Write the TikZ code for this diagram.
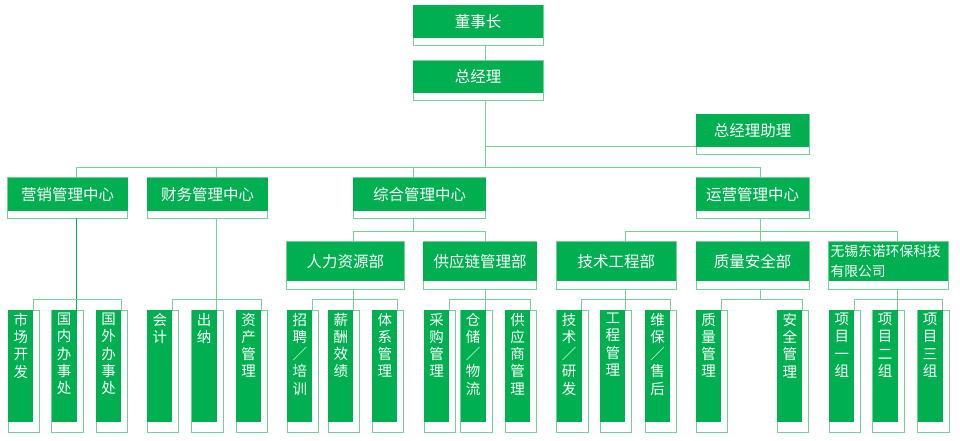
\documentclass[tikz,border=0pt]{standalone}
\usepackage{fontspec}
\newfontfamily\cjk{Noto Sans CJK SC}
\definecolor{gr}{HTML}{00B050}
\definecolor{lg}{HTML}{72D29A}
\tikzset{
  frame/.style={draw=lg, fill=white, line width=0.8pt, inner sep=0pt, outer sep=0pt, anchor=north west},
  gfill/.style={fill=gr, inner sep=0pt, outer sep=0pt, anchor=north west, text=white,
                font=\cjk\fontsize{15.5}{18}\selectfont},
  vtext/.style={anchor=north, align=center, text=white, inner sep=0pt,
                font=\cjk\fontsize{14.5}{17.2}\selectfont},
  conn/.style={draw=lg, line width=1pt},
  conndark/.style={draw=gr, line width=1pt},
}
% horizontal box: [green style]{name}{x0}{y0}{x1}{y1}{ygreen}{text}
\newcommand\HB[8][]{%
  \node[frame, minimum width={(#5-#3)*1pt}, minimum height={(#6-#4)*1pt}] (#2) at (#3,#4) {};
  \node[gfill, minimum width={(#5-#3)*1pt}, minimum height={(#7-#4)*1pt}, #1] (#2g) at (#3,#4) {#8};
}
% vertical box: {name}{x0}{text}
\newcommand\VB[3]{%
  \node[frame, minimum width=31.3pt, minimum height=122.3pt] (#1) at (#2,310) {};
  \node[gfill, minimum width=25pt, minimum height=111.7pt] (#1g) at (#2,310) {};
  \node[vtext] (#1t) at (#2+12.5,313) {#3};
}
\newcommand\kids[2]{%
  \draw[conn] (#1g.north east) -- (#1g.north east |- y4) -- (#2g.north east |- y4) -- (#2g.north east);
}
\begin{document}
\begin{tikzpicture}[x=1pt,y=-1pt]
\useasboundingbox (0,0) rectangle (960,441);
\coordinate (c0) at (485.7,0);
\coordinate (dC) at (413.7,0);
\coordinate (dD) at (760.7,0);
\coordinate (y2) at (0,167.3);
\coordinate (y3) at (0,231.3);
\coordinate (y4) at (0,299);

% top levels
\HB{dsz}{413}{5}{543}{45}{37.7}{董事长}
\HB{zjl}{413}{60.7}{543}{100.7}{93.3}{总经理}
\HB{zs}{696}{114}{809.3}{154}{146.7}{总经理助理}
% level 2
\HB{yx}{7.7}{177.7}{127.7}{218.3}{211}{营销管理中心}
\HB{cw}{147.3}{177.7}{267.7}{218.3}{211}{财务管理中心}
\HB{zh}{353.3}{177.7}{485.7}{218.3}{211}{综合管理中心}
\HB{yy}{696}{177.7}{809.3}{218.3}{211}{运营管理中心}
% level 3
\HB{rl}{286.7}{241.7}{404}{289}{281}{人力资源部}
\HB{gy}{423.3}{241.7}{536.7}{289}{281}{供应链管理部}
\HB{js}{556.7}{241.7}{676}{289}{281}{技术工程部}
\HB{zl}{696}{241.7}{809.3}{289}{281}{质量安全部}
\HB[align=left, text width=116pt, font=\cjk\fontsize{13.8}{19.5}\selectfont]{wx}{828.7}{241.7}{948.3}{289}{281}{无锡东诺环保科技\\有限公司}
% level 4
\VB{a1}{8.3}{市\\场\\开\\发}
\VB{a2}{51.7}{国\\内\\办\\事\\处}
\VB{a3}{96}{国\\外\\办\\事\\处}
\VB{b1}{147.3}{会\\计}
\VB{b2}{191.7}{出\\纳}
\VB{b3}{236}{资\\产\\管\\理}
\VB{c1}{287.3}{招\\聘\\／\\培\\训}
\VB{c2}{328.3}{薪\\酬\\效\\绩}
\VB{c3}{372.3}{体\\系\\管\\理}
\VB{d1}{424}{采\\购\\管\\理}
\VB{d2}{460.7}{仓\\储\\／\\物\\流}
\VB{d3}{505}{供\\应\\商\\管\\理}
\VB{e1}{556.7}{技\\术\\／\\研\\发}
\VB{e2}{600.3}{工\\程\\管\\理}
\VB{e3}{645}{维\\保\\／\\售\\后}
\VB{f1}{696}{质\\量\\管\\理}
\VB{f2}{777.3}{安\\全\\管\\理}
\VB{h1}{829.3}{项\\目\\一\\组}
\VB{h2}{872.7}{项\\目\\二\\组}
\VB{h3}{917.7}{项\\目\\三\\组}

% connectors: top
\draw[conn] (c0 |- dsz.south) -- (c0 |- zjl.north);
\draw[conn] (c0 |- zjl.south) -- (c0 |- y2);
\draw[conn] (c0 |- zsg.south west) -- (zsg.south west);
\draw[conn] (a2g.north east |- y2) -- (dD |- y2);
\draw[conn] (a2g.north east |- y2) -- (a2g.north east |- yx.north);
\draw[conn] (b2g.north east |- y2) -- (b2g.north east |- cw.north);
\draw[conn] (dC |- y2) -- (dC |- zh.north);
\draw[conn] (dD |- y2) -- (dD |- yy.north);
% 营销
\draw[conndark] (a2g.north east |- yx.south) -- (a2g.north east);
\kids{a1}{a3}
% 财务
\draw[conn] (b2g.north east |- cw.south) -- (b2g.north east);
\kids{b1}{b3}
% 综合
\draw[conn] (dC |- zh.south) -- (dC |- y3);
\draw[conn] (c2g.north east |- rl.north) -- (c2g.north east |- y3) -- (c0 |- y3) -- (c0 |- gy.north);
\draw[conn] (c2g.north east |- rl.south) -- (c2g.north east);
\kids{c1}{c3}
\draw[conn] (c0 |- gy.south) -- (c0 |- d2g.north);
\kids{d1}{d3}
% 运营
\draw[conn] (dD |- yy.south) -- (dD |- zl.north);
\draw[conn] (e2g.north east |- js.north) -- (e2g.north east |- y3) -- (h2g.north east |- y3) -- (h2g.north east |- wx.north);
\draw[conn] (e2g.north east |- js.south) -- (e2g.north east);
\kids{e1}{e3}
\draw[conn] (dD |- zl.south) -- (dD |- y4);
\kids{f1}{f2}
\draw[conn] (h2g.north east |- wx.south) -- (h2g.north east);
\kids{h1}{h3}
\end{tikzpicture}
\end{document}
